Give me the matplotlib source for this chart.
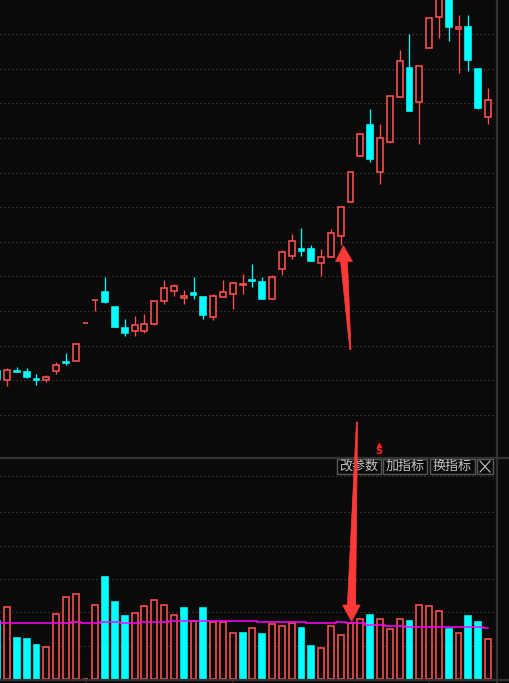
import numpy as np
import matplotlib.pyplot as plt
from matplotlib.patches import Rectangle, Polygon
from matplotlib.lines import Line2D

plt.rcParams['font.family'] = ['Noto Sans CJK SC', 'DejaVu Sans']

# daily OHLC (index 0 is only partly visible at the left edge)
opens = [8.64, 8.51, 8.64, 8.62, 8.52, 8.51, 8.64, 8.77, 8.78, 9.33,
         9.66, 9.78, 9.56, 9.26, 9.21, 9.21, 9.31, 9.65, 9.79, 9.69,
         9.76, 9.70, 9.41, 9.70, 9.75, 9.88, 9.95, 9.92, 9.67, 10.11,
         10.30, 10.40, 10.40, 10.19, 10.28, 10.58, 11.07, 11.74, 12.19, 11.51,
         11.94, 12.59, 13.01, 12.52, 13.30, 13.75, 14.05, 13.57, 13.60, 12.99,
         12.30]
highs = [8.66, 8.68, 8.69, 8.68, 8.59, 8.58, 8.77, 8.90, 9.02, 9.33,
         9.66, 9.99, 9.56, 9.39, 9.43, 9.46, 9.65, 9.95, 9.89, 9.80,
         9.99, 9.70, 9.75, 9.95, 9.92, 10.04, 10.18, 9.99, 10.02, 10.38,
         10.61, 10.70, 10.45, 10.40, 10.69, 11.00, 11.51, 12.06, 12.42, 12.20,
         12.61, 13.27, 13.50, 13.04, 13.73, 14.11, 14.14, 13.77, 13.77, 12.99,
         12.72]
lows = [8.49, 8.42, 8.62, 8.53, 8.43, 8.48, 8.59, 8.72, 8.78, 9.33,
        9.50, 9.62, 9.27, 9.14, 9.14, 9.18, 9.30, 9.60, 9.72, 9.60,
        9.67, 9.39, 9.37, 9.70, 9.53, 9.75, 9.85, 9.67, 9.67, 10.02,
        10.25, 10.30, 10.22, 10.01, 10.28, 10.45, 11.07, 11.74, 11.65, 11.33,
        11.93, 12.59, 12.39, 11.91, 13.30, 13.44, 13.40, 12.94, 12.97, 12.42,
        12.20]
closes = [8.52, 8.65, 8.62, 8.55, 8.51, 8.55, 8.72, 8.75, 9.02, 9.33,
          9.66, 9.63, 9.27, 9.18, 9.30, 9.31, 9.65, 9.83, 9.86, 9.72,
          9.73, 9.44, 9.72, 9.78, 9.91, 9.89, 9.93, 9.67, 9.99, 10.35,
          10.51, 10.37, 10.22, 10.28, 10.63, 11.00, 11.51, 12.06, 11.70, 12.00,
          12.61, 13.11, 12.39, 13.04, 13.73, 14.11, 13.60, 13.60, 13.12, 12.43,
          12.55]
volumes = [3480, 4320, 2460, 2400, 2040, 1920, 3900, 4920, 5100, 30,
           4440, 6120, 4620, 3780, 3960, 4380, 4740, 4440, 3840, 4260,
           3480, 4260, 3420, 3420, 2760, 2760, 3060, 2700, 3300, 3180,
           3360, 3060, 1980, 1860, 3180, 2640, 3360, 3600, 3840, 3600,
           3000, 3600, 3480, 4440, 4380, 4080, 3000, 2760, 3780, 3420,
           2400]
vol_ma = [3340] * 8 + [3400] + [3340] * 2 + [3400] * 2 + [3340] * 2 + [3400] * 3 \
    + [3460] * 9 + [3400] * 5 + [3340] * 3 + [3400] + [3340] * 2 + [3240] * 2 \
    + [3160] * 2 + [3100] * 8 + [3040]
month_starts = [9, 24, 44]
price_grid = [8.0, 8.5, 9.0, 9.5, 10.0, 10.5, 11.0, 11.5, 12.0, 12.5, 13.0, 13.5]
vol_grid = [2000, 4000, 6000, 8000, 10000, 12200]
buttons = ['改参数', '加指标', '换指标']

W, H = 510, 683
BG = '#0a0a0a'
RED = '#ff5050'
CYAN = '#00ffff'
GRID = '#505050'
LINE = '#333333'
PX = 0.72  # one pixel in points

fig = plt.figure(figsize=(W / 100, H / 100), dpi=100, facecolor=BG)


def fx(px):
    return px / W


def fy(py):
    return 1 - py / H


ax = fig.add_axes([0, fy(457), fx(497), 457 / H])
axv = fig.add_axes([0, fy(679), fx(497), 222 / H])
for a in (ax, axv):
    a.set_facecolor(BG)
    a.axis('off')
    a.set_xlim(0.285, 50.92)
ax.set_ylim(7.394, 13.991)
axv.set_ylim(0, 13320)

for v in price_grid:
    ax.axhline(v, color=GRID, lw=PX, linestyle=(0, (1, 3)), zorder=0)
for v in vol_grid:
    axv.axhline(v, color=GRID, lw=PX, linestyle=(0, (1, 3)), zorder=0)

bw = 0.6
for i in range(len(opens)):
    o, h, l, c = opens[i], highs[i], lows[i], closes[i]
    up = c >= o
    col = RED if up else CYAN
    ax.vlines(i, l, h, color=col, lw=PX * 1.3, zorder=2)
    ax.add_patch(Rectangle((i - bw / 2, min(o, c)), bw, abs(c - o),
                           facecolor=BG if up else col, edgecolor=col,
                           lw=PX * 1.6, zorder=3))
    vup = (closes[i] >= closes[i - 1]) if i > 0 else up
    vcol = RED if vup else CYAN
    axv.add_patch(Rectangle((i - bw / 2, 0), bw, volumes[i],
                            facecolor=BG if vup else vcol, edgecolor=vcol,
                            lw=PX * 1.6, zorder=3))

axv.plot(range(len(vol_ma)), vol_ma, drawstyle='steps-mid', color='#ff00ff',
         lw=1.1, zorder=4)

for m in month_starts:
    axv.plot([m, m], [0, -4 / 222 * 13320], color=LINE, lw=1.2, clip_on=False)

# frame lines
fig.add_artist(Line2D([fx(497.5)] * 2, [0, 1], color=LINE, lw=1.6))
fig.add_artist(Line2D([0, 1], [fy(457.5)] * 2, color=LINE, lw=1.6))
fig.add_artist(Line2D([0, 1], [fy(680)] * 2, color=LINE, lw=1.6))

# hand drawn arrows
arrow_up = [(343.3, 245.5), (352.5, 261.5), (347.5, 261.5), (351.0, 349.5),
            (349.8, 349.5), (340.6, 261.5), (335.6, 261.5)]
arrow_down = [(356.4, 422), (357.6, 422), (355.6, 605), (360.2, 605),
              (351.6, 621.5), (342.6, 605), (347.4, 605)]
for pts in (arrow_up, arrow_down):
    fig.add_artist(Polygon([(fx(x), fy(y)) for x, y in pts], closed=True,
                           transform=fig.transFigure, facecolor='#ff3838',
                           edgecolor='#ff3838', lw=0.5, zorder=10))

# signal mark
fig.text(fx(378.5), fy(451.5), 'S', color='#ff2020', fontsize=7,
         fontweight='bold', ha='center', va='center', family='DejaVu Sans')
fig.add_artist(Line2D([fx(378.5)], [fy(444.5)], marker='^', markersize=3,
                      color='#ff2020', transform=fig.transFigure))

# indicator buttons
boxes = [(337, 381), (383, 427), (430, 475)]
for (x0, x1), label in zip(boxes, buttons):
    fig.add_artist(Rectangle((fx(x0), fy(474)), fx(x1 - x0), 15 / H,
                             transform=fig.transFigure, facecolor=BG,
                             edgecolor='#5a5a5a', lw=1.0))
    fig.text(fx((x0 + x1) / 2), fy(466.5), label, color='#c4c4c4',
             fontsize=9.4, ha='center', va='center')
fig.add_artist(Rectangle((fx(477), fy(474)), fx(16), 15 / H,
                         transform=fig.transFigure, facecolor=BG,
                         edgecolor='#5a5a5a', lw=1.0))
for xs, ys in (((480, 490), (461, 472)), ((480, 490), (472, 461))):
    fig.add_artist(Line2D([fx(x) for x in xs], [fy(y) for y in ys],
                          color='#c4c4c4', lw=0.8))

fig.savefig('out.png', dpi=100, facecolor=BG)
